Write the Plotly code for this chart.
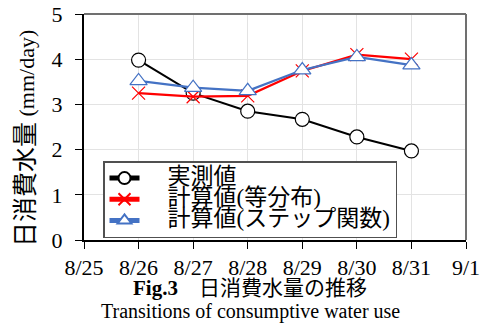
import plotly.graph_objects as go

dates = ["2023-08-26", "2023-08-27", "2023-08-28", "2023-08-29", "2023-08-30", "2023-08-31"]
measured = [3.98, 3.25, 2.85, 2.67, 2.28, 1.97]
calc_uniform = [3.25, 3.17, 3.19, 3.74, 4.10, 4.00]
calc_step = [3.52, 3.37, 3.30, 3.76, 4.05, 3.87]
names = ["実測値", "計算値(等分布)", "計算値(ステップ関数)"]
tick_dates = ["2023-08-25", "2023-08-26", "2023-08-27", "2023-08-28", "2023-08-29",
              "2023-08-30", "2023-08-31", "2023-09-01"]
tick_labels = ["8/25", "8/26", "8/27", "8/28", "8/29", "8/30", "8/31", "9/1"]
y_ticks = [0, 1, 2, 3, 4, 5]
x_range = ["2023-08-25", "2023-09-01"]
y_range = [0, 5]
y_title = ["日消費水量", "(mm/day)"]
caption = ["Fig.3", "日消費水量の推移", "Transitions of consumptive water use"]

FONT = "Liberation Serif, Times New Roman, Noto Sans CJK JP, serif"


def big(t, px=23):
    return '<span style="font-size:%dpx">%s</span>' % (px, t)


def legend_name(t):
    return big("\u2003" + t)


fig = go.Figure()
fig.add_trace(go.Scatter(x=dates, y=measured, name=legend_name(names[0]), mode="lines+markers",
                         line=dict(color="black", width=2),
                         marker=dict(symbol="circle", size=14, color="white",
                                     line=dict(color="black", width=1.2))))
fig.add_trace(go.Scatter(x=dates, y=calc_uniform, name=legend_name(names[1]), mode="lines+markers",
                         line=dict(color="#ff0000", width=2.2),
                         marker=dict(symbol="x-thin-open", size=13, color="#ff0000",
                                     line=dict(color="#ff0000", width=1.2))))
fig.add_trace(go.Scatter(x=dates, y=calc_step, name=legend_name(names[2]), mode="lines+markers",
                         line=dict(color="#4472c4", width=2.2),
                         marker=dict(symbol="triangle-up", size=15, color="white",
                                     line=dict(color="#4472c4", width=1.2))))

fig.update_layout(
    width=488, height=331,
    margin=dict(l=84, r=22, t=14, b=91, autoexpand=False),
    paper_bgcolor="white", plot_bgcolor="white",
    font=dict(family=FONT, color="black"),
    showlegend=True,
    legend=dict(x=(103 - 84) / 382, y=(240 - 161) / 226, xanchor="left", yanchor="top",
                bgcolor="white", bordercolor="#505050", borderwidth=1.5,
                font=dict(size=14, family=FONT), tracegroupgap=0,
                itemsizing="constant"),
    xaxis=dict(type="date", range=x_range, automargin=False,
               tickvals=tick_dates, ticktext=tick_labels,
               tickfont=dict(size=22), showgrid=True, gridcolor="#e3e3e3",
               showline=True, linecolor="black", linewidth=2,
               ticks="outside", ticklen=7, tickwidth=1.3, tickcolor="black", zeroline=False),
    xaxis2=dict(type="date", range=x_range, overlaying="x", anchor="y", side="bottom",
                automargin=False,
                tickvals=tick_dates, showticklabels=False, showgrid=False,
                showline=False, ticks="inside", ticklen=7, tickwidth=1.3,
                tickcolor="black", zeroline=False),
    yaxis=dict(range=y_range, tickvals=y_ticks, tickfont=dict(size=22), automargin=False,
               showgrid=True, gridcolor="#e3e3e3", ticklabelstandoff=8,
               showline=True, linecolor="black", linewidth=2,
               ticks="outside", ticklen=7, tickwidth=1.3, tickcolor="black", zeroline=False),
    yaxis2=dict(range=y_range, overlaying="y", anchor="x", side="left", automargin=False,
                tickvals=y_ticks, showticklabels=False, showgrid=False,
                showline=False, ticks="inside", ticklen=7, tickwidth=1.3,
                tickcolor="black", zeroline=False),
    shapes=[
        dict(type="line", xref="paper", yref="paper", x0=0, x1=1, y0=1, y1=1,
             line=dict(color="#707070", width=2)),
        dict(type="line", xref="paper", yref="paper", x0=1, x1=1, y0=0, y1=1,
             line=dict(color="#707070", width=2)),
    ],
    annotations=[
        dict(text=big(y_title[0], 25) + " " + y_title[1], xref="paper", yref="paper",
             x=(25 - 84) / 382, y=(240 - 139) / 226, xanchor="center", yanchor="middle",
             textangle=-90, showarrow=False, font=dict(size=22, family=FONT)),
        dict(text="<b>%s</b>　%s" % (caption[0], big(caption[1], 21)), xref="paper", yref="paper",
             x=0.435, y=-0.212, xanchor="center", yanchor="middle", showarrow=False,
             font=dict(size=21, family=FONT)),
        dict(text=caption[2], xref="paper", yref="paper",
             x=0.435, y=-0.316, xanchor="center", yanchor="middle", showarrow=False,
             font=dict(size=20, family=FONT)),
    ],
)

fig.write_html("out.html", config={"displayModeBar": False},
               post_script="document.body.style.margin='0';document.body.style.overflow='hidden';")
